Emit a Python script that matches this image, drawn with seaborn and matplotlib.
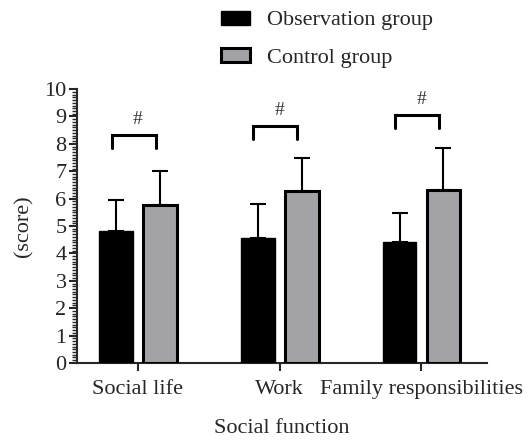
import numpy as np
import pandas as pd
import seaborn as sns
import matplotlib
matplotlib.use("Agg")
import matplotlib.pyplot as plt
from matplotlib.patches import Patch
from matplotlib.ticker import MultipleLocator

# Social function scores (mean and SD) per domain
categories = ["Social life", "Work", "Family responsibilities"]
groups = ["Observation group", "Control group"]
obs_mean = [4.82, 4.56, 4.42]
obs_sd = [1.13, 1.24, 1.05]
ctrl_mean = [5.77, 6.28, 6.31]
ctrl_sd = [1.23, 1.20, 1.54]
# significance brackets between the two groups
bracket_top = [8.32, 8.65, 9.05]
sig_marks = ["#", "#", "#"]

df = pd.DataFrame({
    "function": categories * 2,
    "group": [groups[0]] * 3 + [groups[1]] * 3,
    "score": obs_mean + ctrl_mean,
    "sd": obs_sd + ctrl_sd,
})

sns.set_style("ticks")
plt.rcParams["font.family"] = ["Liberation Serif", "DejaVu Serif"]
plt.rcParams["axes.linewidth"] = 1.5

fig = plt.figure(figsize=(5.28, 4.41), dpi=100)
ax = fig.add_axes([0.1458, 0.177, 0.776, 0.621])

colors = {groups[0]: "#000000", groups[1]: "#a3a3a7"}
sns.barplot(data=df, x="function", y="score", hue="group", hue_order=groups,
            order=categories, palette=colors, saturation=1, width=0.62, gap=0.23,
            errorbar=None, legend=False, ax=ax, zorder=3)

# style the bars and add upward SD error bars
bars = list(ax.patches)
for patch, (_, row) in zip(bars, df.iterrows()):
    patch.set_edgecolor("black")
    patch.set_linewidth(2.2 if row["group"] == groups[1] else 1.0)
    xc = patch.get_x() + patch.get_width() / 2
    ax.errorbar(xc, row["score"], yerr=[[0], [row["sd"]]], fmt="none",
                ecolor="black", elinewidth=1.5, capsize=6, capthick=1.5, zorder=2)

# significance brackets
n = len(categories)
for i in range(n):
    p_obs, p_ctrl = bars[i], bars[i + n]
    x0 = p_obs.get_x() + p_obs.get_width() / 2 - 0.03
    x1 = p_ctrl.get_x() + p_ctrl.get_width() / 2 - 0.03
    top = bracket_top[i]
    ax.plot([x0, x0, x1, x1], [top - 0.48, top, top, top - 0.48],
            color="black", lw=2.2, solid_joinstyle="miter", zorder=4)
    ax.text(i, top + 0.25, sig_marks[i], ha="center", va="bottom",
            fontsize=14, color="#333333")

ax.set_ylim(0, 10)
ax.set_xlim(-0.43, 2.46)
ax.yaxis.set_major_locator(MultipleLocator(1))
ax.yaxis.set_minor_locator(MultipleLocator(0.1))
ax.tick_params(axis="y", which="major", length=6, width=1.5, labelsize=16, pad=1.5)
ax.tick_params(axis="y", which="minor", length=3.5, width=1.0)
ax.tick_params(axis="x", which="major", length=6, width=1.5, labelsize=16, pad=6)
sns.despine(ax=ax)

ax.set_xlabel("Social function", fontsize=16, labelpad=15)
ax.set_ylabel("(score)", fontsize=16, labelpad=8)

handles = [
    Patch(facecolor="#000000", edgecolor="black", linewidth=1.0),
    Patch(facecolor="#a3a3a7", edgecolor="black", linewidth=2.2),
]
fig.legend(handles, groups, loc="upper left", bbox_to_anchor=(0.4186, 0.976),
           frameon=False, fontsize=16, handlelength=1.3, handleheight=0.6,
           handletextpad=0.75, labelspacing=0.78, borderpad=0, borderaxespad=0)

fig.savefig("out.png", dpi=100)
